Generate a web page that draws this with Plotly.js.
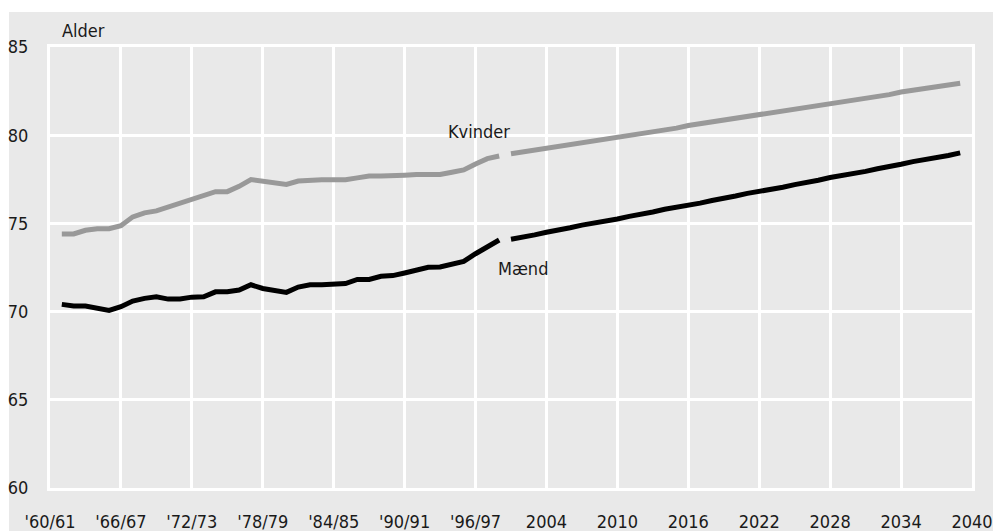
<!DOCTYPE html>
<html>
<head>
<meta charset="utf-8">
<script src="https://cdn.plot.ly/plotly-3.0.1.min.js"></script>
<style>
  html, body { margin: 0; padding: 0; background: #ffffff; }
  #chart { width: 993px; height: 531px; }
</style>
</head>
<body>
<div id="chart"></div>
<script>
// Axis categories
const firstTick = "'60/61";
const histPeriods = ["'61/62","'62/63","'63/64","'64/65","'65/66","'66/67","'67/68","'68/69","'69/70","'70/71",
  "'71/72","'72/73","'73/74","'74/75","'75/76","'76/77","'77/78","'78/79","'79/80","'80/81",
  "'81/82","'82/83","'83/84","'84/85","'85/86","'86/87","'87/88","'88/89","'89/90","'90/91",
  "'91/92","'92/93","'93/94","'94/95","'95/96","'96/97","'97/98","'98/99"];
const progYears = ["2001","2002","2003","2004","2005","2006","2007","2008","2009","2010",
  "2011","2012","2013","2014","2015","2016","2017","2018","2019","2020",
  "2021","2022","2023","2024","2025","2026","2027","2028","2029","2030",
  "2031","2032","2033","2034","2035","2036","2037","2038","2039"];
const lastTick = "2040";
const tickLabels = ["'60/61","'66/67","'72/73","'78/79","'84/85","'90/91","'96/97",
  "2004","2010","2016","2022","2028","2034","2040"];

// Series values (Alder)
const kvinderHist = [74.40,74.40,74.61,74.70,74.70,74.87,75.37,75.60,75.71,75.94,
  76.16,76.37,76.63,76.80,76.80,77.10,77.49,77.40,77.30,77.21,
  77.40,77.47,77.47,77.47,77.47,77.58,77.68,77.68,77.68,77.73,
  77.77,77.77,77.77,77.90,78.03,78.37,78.67,78.82];
const maendHist = [70.41,70.32,70.32,70.21,70.07,70.28,70.60,70.75,70.84,70.71,
  70.71,70.82,70.84,71.12,71.12,71.22,71.52,71.31,71.20,71.09,
  71.39,71.52,71.52,71.59,71.59,71.82,71.82,72.00,72.04,72.19,
  72.36,72.51,72.53,72.70,72.85,73.28,73.69,74.06];
const kvinderProg = [78.95,79.05,79.15,79.25,79.35,79.45,79.60,79.70,79.80,79.90,
  80.00,80.10,80.20,80.30,80.40,80.55,80.65,80.75,80.85,80.95,
  81.05,81.15,81.25,81.35,81.50,81.60,81.70,81.80,81.90,82.00,
  82.10,82.20,82.30,82.45,82.55,82.65,82.75,82.85,82.95];
const maendProg = [74.10,74.20,74.35,74.50,74.60,74.75,74.90,75.00,75.15,75.25,
  75.40,75.50,75.65,75.80,75.90,76.05,76.15,76.30,76.40,76.55,
  76.70,76.80,76.95,77.05,77.20,77.30,77.45,77.60,77.70,77.85,
  77.95,78.10,78.20,78.35,78.50,78.60,78.75,78.85,79.00];

const allCategories = [firstTick].concat(histPeriods, progYears, [lastTick]);

const FONT = "DejaVu Sans Condensed, DejaVu Sans, sans-serif";
const FSIZE = 18;
const TXT = "#1a1a1a";
const GRAY = "#999999";
const BLACK = "#000000";

const traces = [
  {x: histPeriods, y: kvinderHist, type: "scatter", mode: "lines", name: "Kvinder",
   line: {color: GRAY, width: 5}, hoverinfo: "skip"},
  {x: progYears, y: kvinderProg, type: "scatter", mode: "lines", name: "Kvinder prognose",
   line: {color: GRAY, width: 5}, hoverinfo: "skip"},
  {x: histPeriods, y: maendHist, type: "scatter", mode: "lines", name: "Mænd",
   line: {color: BLACK, width: 5}, hoverinfo: "skip"},
  {x: progYears, y: maendProg, type: "scatter", mode: "lines", name: "Mænd prognose",
   line: {color: BLACK, width: 5}, hoverinfo: "skip"}
];

const layout = {
  width: 993, height: 531,
  margin: {l: 50, r: 21, t: 47, b: 43, pad: 0},
  paper_bgcolor: "#ffffff",
  plot_bgcolor: "#dcdcdc",
  showlegend: false,
  font: {family: FONT, size: FSIZE, color: TXT},
  xaxis: {
    type: "category",
    categoryorder: "array",
    categoryarray: allCategories,
    range: [0, allCategories.length - 1],
    tickmode: "array",
    tickvals: tickLabels,
    ticktext: tickLabels,
    ticks: "",
    ticklabelstandoff: 15,
    showgrid: true, gridcolor: "#ffffff", gridwidth: 3,
    showline: true, linecolor: "#ffffff", linewidth: 3, mirror: true,
    zeroline: false, fixedrange: true,
    tickfont: {family: FONT, size: FSIZE, color: TXT}
  },
  yaxis: {
    range: [60, 85],
    tickvals: [60, 65, 70, 75, 80, 85],
    ticks: "",
    ticklabelstandoff: 15,
    showgrid: true, gridcolor: "#ffffff", gridwidth: 3,
    showline: true, linecolor: "#ffffff", linewidth: 3, mirror: true,
    zeroline: false, fixedrange: true,
    tickfont: {family: FONT, size: FSIZE, color: TXT}
  },
  shapes: [
    {type: "rect", xref: "paper", yref: "paper", layer: "below",
     x0: -0.0445, x1: 1.05, y0: -0.12, y1: 1.0794,
     fillcolor: "#e9e9e9", line: {width: 0}}
  ],
  annotations: [
    {text: "Alder", xref: "paper", yref: "paper", x: 0.0108, y: 1.038,
     xanchor: "left", yanchor: "middle", showarrow: false,
     font: {family: FONT, size: FSIZE, color: TXT}},
    {text: "Kvinder", xref: "x", yref: "y", x: 36.3, y: 80.2,
     xanchor: "center", yanchor: "middle", showarrow: false,
     font: {family: FONT, size: FSIZE, color: TXT}},
    {text: "Mænd", xref: "x", yref: "y", x: 40, y: 72.47,
     xanchor: "center", yanchor: "middle", showarrow: false,
     font: {family: FONT, size: FSIZE, color: TXT}}
  ]
};

Plotly.newPlot("chart", traces, layout, {displayModeBar: false, staticPlot: true});
</script>
</body>
</html>
